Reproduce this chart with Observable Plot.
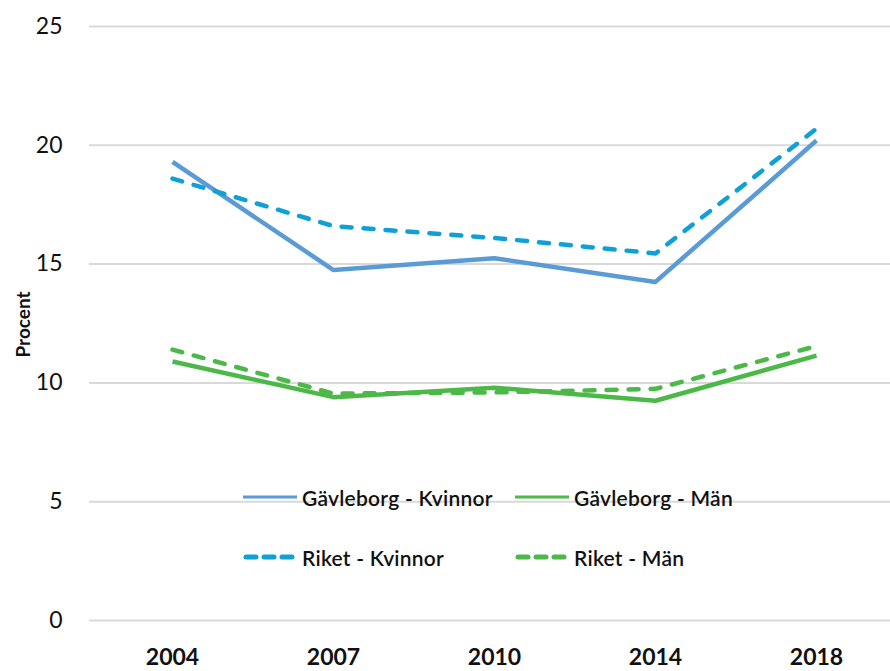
<!DOCTYPE html>
<html>
<head>
<meta charset="utf-8">
<script src="https://cdn.jsdelivr.net/npm/d3@7"></script>
<script src="https://cdn.jsdelivr.net/npm/@observablehq/plot@0.6"></script>
<style>
  html, body { margin: 0; padding: 0; background: #fff; }
  #wrap { position: relative; width: 890px; height: 671px; overflow: hidden; font-family: Lato, "Open Sans", sans-serif; }
  #legend { position: absolute; left: 243px; top: 479px; display: grid; grid-template-columns: 272px 280px; row-gap: 24px; }
  .item { display: flex; align-items: center; font-size: 21px; font-weight: 600; color: #111; height: 36px; letter-spacing: 0.25px; }
  .item svg { margin-right: 5px; }
</style>
</head>
<body>
<div id="wrap"></div>
<script>
const years = ["2004", "2007", "2010", "2014", "2018"];
const seriesNames = ["Gävleborg - Kvinnor", "Gävleborg - Män", "Riket - Kvinnor", "Riket - Män"];
const gavleborgKvinnor = [19.3, 14.75, 15.25, 14.25, 20.2];
const gavleborgMan = [10.9, 9.4, 9.8, 9.25, 11.15];
const riketKvinnor = [18.6, 16.6, 16.1, 15.45, 20.7];
const riketMan = [11.4, 9.55, 9.6, 9.75, 11.55];
const yTicks = [0, 5, 10, 15, 20, 25];
const colors = ["#5B9BD5", "#4CB848", "#0FA0D8", "#4CB848"];
const dashed = [false, false, true, true];
const valuesBySeries = [gavleborgKvinnor, gavleborgMan, riketKvinnor, riketMan];

const data = [];
seriesNames.forEach((s, i) => years.forEach((y, j) => data.push({series: s, year: y, value: valuesBySeries[i][j]})));

const lineMarks = seriesNames.map((s, i) =>
  Plot.line(data.filter(d => d.series === s), {
    x: "year", y: "value", stroke: colors[i], strokeWidth: 4.5,
    strokeDasharray: dashed[i] ? "10,12" : null,
    strokeLinecap: dashed[i] ? "round" : "butt",
    strokeLinejoin: "round"
  })
);

const chart = Plot.plot({
  width: 890, height: 671,
  marginLeft: 89, marginRight: 0, marginTop: 26, marginBottom: 51,
  style: {fontFamily: "Lato, 'Open Sans', sans-serif", background: "#fff", overflow: "visible"},
  x: {type: "point", domain: years, padding: 0.5, range: [89, 898], label: null},
  y: {domain: [0, 25], ticks: yTicks, label: null},
  marks: [
    Plot.ruleY(yTicks, {stroke: "#d9d9d9", strokeWidth: 2}),
    Plot.axisY({ticks: yTicks, tickSize: 0, tickPadding: 27, fontSize: 23, fill: "#111", label: null}),
    Plot.axisX({tickSize: 0, tickPadding: 28, fontSize: 23, fontWeight: "bold", fill: "#111", label: null}),
    Plot.text(["Procent"], {frameAnchor: "left", dx: -66, dy: 34, rotate: -90, fontSize: 19, fontWeight: "bold", fill: "#111", ariaLabel: "ylabel"}),
    ...lineMarks
  ]
});

d3.select(chart).selectAll("g[aria-label=ylabel] text").style("letter-spacing", "3px");

const wrap = document.getElementById("wrap");
wrap.appendChild(chart);

const legend = document.createElement("div");
legend.id = "legend";
seriesNames.forEach((s, i) => {
  const item = document.createElement("div");
  item.className = "item";
  const ns = "http://www.w3.org/2000/svg";
  const svg = document.createElementNS(ns, "svg");
  svg.setAttribute("width", 54); svg.setAttribute("height", 10);
  const ln = document.createElementNS(ns, "line");
  ln.setAttribute("x1", dashed[i] ? 3 : 0); ln.setAttribute("x2", dashed[i] ? 51 : 54);
  ln.setAttribute("y1", 5); ln.setAttribute("y2", 5);
  ln.setAttribute("stroke", colors[i]);
  ln.setAttribute("stroke-width", dashed[i] ? 5 : 3);
  if (dashed[i]) { ln.setAttribute("stroke-dasharray", "10,8"); ln.setAttribute("stroke-linecap", "round"); }
  svg.appendChild(ln);
  item.appendChild(svg);
  const t = document.createElement("span");
  t.textContent = s;
  item.appendChild(t);
  legend.appendChild(item);
});
wrap.appendChild(legend);
</script>
</body>
</html>
